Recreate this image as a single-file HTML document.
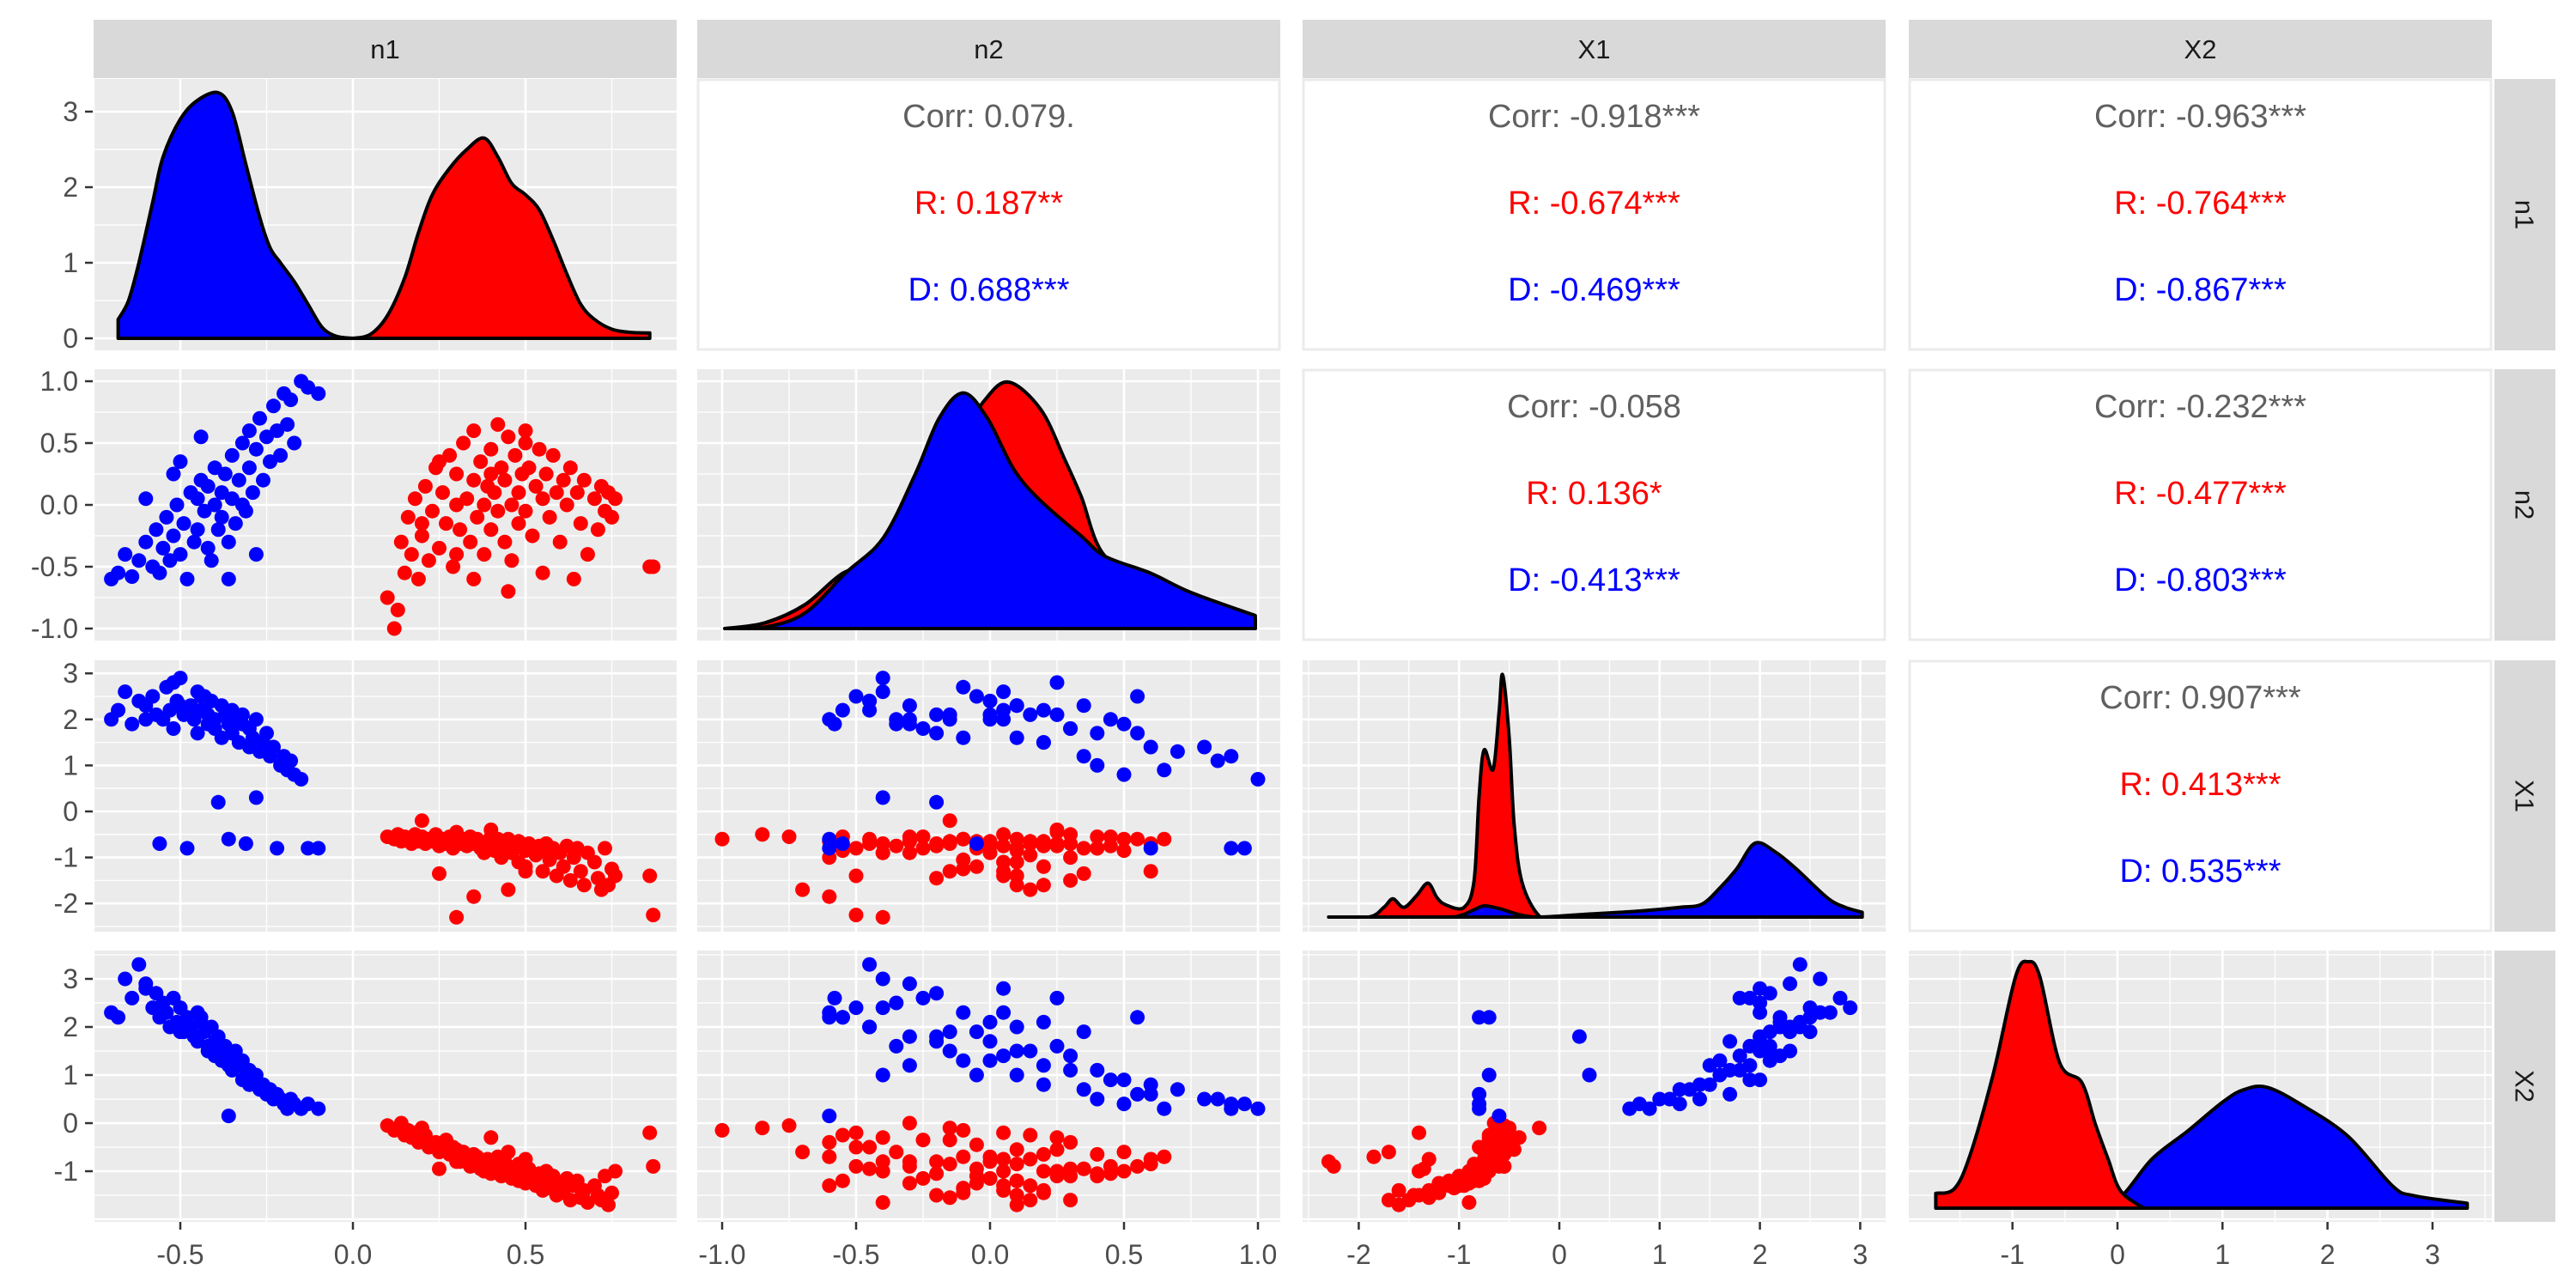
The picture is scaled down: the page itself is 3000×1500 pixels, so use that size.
<!DOCTYPE html>
<html><head><meta charset="utf-8"><title>ggpairs n1 n2 X1 X2</title>
<style>html,body{margin:0;padding:0;background:#fff}svg{display:block}text{font-family:"Liberation Sans",Arial,sans-serif}</style>
</head><body>
<svg id="chart" xmlns="http://www.w3.org/2000/svg" width="3000" height="1500" viewBox="0 0 3000 1500">
<rect x="0" y="0" width="3000" height="1500" fill="#ffffff"/>
<g id="layer"></g>
</svg>
<script>
// ---- data ----
const varNames = ["n1","n2","X1","X2"];
// blue (D) observations
const n1B = [-0.70,-0.68,-0.66,-0.64,-0.62,-0.60,-0.58,-0.57,-0.56,-0.55,-0.54,-0.53,-0.52,-0.51,-0.50,-0.49,-0.48,-0.47,-0.46,-0.45,-0.45,-0.44,-0.43,-0.42,-0.42,-0.41,-0.40,-0.40,-0.39,-0.38,-0.38,-0.37,-0.36,-0.35,-0.35,-0.34,-0.33,-0.32,-0.32,-0.31,-0.30,-0.30,-0.29,-0.28,-0.27,-0.26,-0.25,-0.24,-0.23,-0.22,-0.21,-0.20,-0.19,-0.18,-0.17,-0.15,-0.13,-0.10,-0.36,-0.28,-0.52,-0.44,-0.60,-0.50];
const n2B = [-0.60,-0.55,-0.40,-0.58,-0.45,-0.30,-0.50,-0.20,-0.55,-0.35,-0.10,-0.45,-0.25,0.00,-0.40,-0.15,-0.60,0.10,-0.30,0.05,-0.20,0.20,-0.05,-0.35,0.15,-0.45,0.00,0.30,-0.20,0.10,-0.10,0.25,-0.30,0.05,0.40,-0.15,0.20,0.50,0.00,-0.05,0.30,0.60,0.10,0.45,0.70,0.20,0.55,0.35,0.80,0.60,0.40,0.90,0.65,0.85,0.50,1.00,0.95,0.90,-0.60,-0.40,0.25,0.55,0.05,0.35];
const x1B = [2.0,2.2,2.6,1.9,2.4,2.3,2.5,2.1,-0.7,2.0,2.7,2.2,1.8,2.4,2.9,2.1,-0.8,2.3,2.0,2.6,1.7,2.2,2.5,1.9,2.1,2.4,2.0,1.8,0.2,2.3,1.6,2.1,1.9,2.2,1.7,2.0,1.5,1.9,2.1,-0.7,1.8,1.4,1.6,2.0,1.3,1.5,1.7,1.2,1.4,-0.8,1.0,1.2,0.9,1.1,0.8,0.7,-0.8,-0.8,-0.6,0.3,2.8,2.5,2.0,2.3];
const x2B = [2.3,2.2,3.0,2.6,3.3,2.9,2.4,2.7,2.2,2.5,2.3,2.0,2.6,2.1,2.4,1.9,2.2,2.0,1.8,2.3,1.7,2.1,1.9,1.6,1.5,2.0,1.7,1.4,1.8,1.5,1.3,1.6,1.2,1.4,1.1,1.5,1.2,0.9,1.3,1.0,1.1,0.8,1.0,0.9,0.7,0.8,0.6,0.7,0.5,0.6,0.5,0.4,0.3,0.5,0.4,0.3,0.4,0.3,0.15,1.0,2.6,2.2,2.8,1.9];
// red (R) observations
const n1R = [0.10,0.12,0.13,0.14,0.15,0.16,0.17,0.18,0.19,0.20,0.21,0.22,0.23,0.24,0.25,0.26,0.27,0.28,0.29,0.30,0.30,0.31,0.32,0.33,0.34,0.35,0.35,0.36,0.37,0.38,0.38,0.39,0.40,0.40,0.41,0.42,0.42,0.43,0.44,0.44,0.45,0.46,0.46,0.47,0.48,0.48,0.49,0.50,0.50,0.51,0.52,0.53,0.54,0.55,0.55,0.56,0.57,0.58,0.59,0.60,0.61,0.62,0.63,0.64,0.65,0.66,0.67,0.68,0.70,0.71,0.72,0.73,0.74,0.75,0.76,0.86,0.87,0.45,0.35,0.30,0.25,0.50,0.40,0.20];
const n2R = [-0.75,-1.00,-0.85,-0.30,-0.55,-0.10,-0.40,0.05,-0.60,-0.25,0.15,-0.45,-0.05,0.30,-0.35,0.10,-0.15,0.40,-0.50,0.00,0.25,-0.20,0.50,0.05,-0.30,0.20,0.60,-0.10,0.35,0.00,-0.40,0.15,0.45,-0.20,0.10,0.65,-0.05,0.30,-0.30,0.20,0.55,0.00,-0.45,0.40,0.10,-0.15,0.25,0.50,-0.05,0.30,-0.25,0.15,0.45,0.05,-0.55,0.25,-0.10,0.40,0.10,-0.30,0.20,0.00,0.30,-0.60,0.10,-0.15,0.20,-0.40,0.05,-0.20,0.15,-0.05,0.10,-0.10,0.05,-0.50,-0.50,-0.70,-0.60,-0.40,0.35,0.60,0.25,-0.15];
const x1R = [-0.55,-0.60,-0.50,-0.65,-0.55,-0.60,-0.70,-0.50,-0.65,-0.55,-0.70,-0.60,-0.65,-0.50,-0.75,-0.60,-0.70,-0.55,-0.80,-0.65,-0.45,-0.70,-0.60,-0.75,-0.55,-0.65,-0.70,-0.60,-0.80,-0.70,-0.90,-0.65,-0.55,-0.75,-0.85,-0.60,-0.70,-1.00,-0.65,-0.75,-0.60,-0.90,-0.70,-0.80,-1.10,-0.65,-0.75,-0.85,-1.20,-0.70,-0.80,-0.95,-0.75,-1.30,-0.85,-0.70,-1.05,-0.80,-1.40,-0.90,-1.20,-0.75,-1.50,-1.00,-0.80,-1.30,-1.60,-0.90,-1.10,-1.45,-1.70,-0.80,-1.60,-1.25,-1.40,-1.40,-2.25,-1.70,-1.85,-2.30,-1.35,-1.30,-0.40,-0.20];
const x2R = [-0.05,-0.15,-0.10,0.00,-0.25,-0.15,-0.30,-0.20,-0.40,-0.35,-0.25,-0.50,-0.45,-0.40,-0.60,-0.55,-0.35,-0.65,-0.50,-0.70,-0.55,-0.80,-0.60,-0.75,-0.90,-0.65,-0.85,-0.70,-0.95,-0.80,-1.00,-0.75,-0.90,-1.05,-0.85,-0.70,-0.95,-1.10,-0.80,-1.00,-0.90,-1.15,-0.95,-1.05,-1.20,-0.85,-1.10,-1.00,-1.25,-0.95,-1.15,-1.30,-1.05,-1.40,-1.20,-1.00,-1.35,-1.10,-1.50,-1.25,-1.45,-1.15,-1.60,-1.30,-1.20,-1.55,-1.40,-1.65,-1.30,-1.50,-1.60,-1.10,-1.70,-1.45,-1.00,-0.20,-0.90,-0.60,-0.70,-0.80,-0.95,-0.75,-0.30,-0.10];
// density curves [x, density]
const densN1B = [[-0.68,0.25],[-0.65,0.5],[-0.62,1.0],[-0.58,1.8],[-0.55,2.4],[-0.5,2.9],[-0.45,3.15],[-0.39,3.25],[-0.35,3.0],[-0.31,2.3],[-0.27,1.6],[-0.24,1.2],[-0.21,1.0],[-0.17,0.75],[-0.13,0.45],[-0.09,0.15],[-0.05,0.03],[0.0,0.0],[0.02,0.0]];
const densN1R = [[0.0,0.0],[0.05,0.05],[0.1,0.3],[0.15,0.8],[0.19,1.4],[0.23,1.9],[0.28,2.25],[0.33,2.5],[0.38,2.65],[0.42,2.4],[0.46,2.05],[0.5,1.9],[0.54,1.7],[0.58,1.3],[0.62,0.85],[0.66,0.45],[0.7,0.25],[0.75,0.12],[0.8,0.08],[0.86,0.07]];
const densN2R = [[-0.99,0.0],[-0.84,0.024],[-0.69,0.1],[-0.55,0.23],[-0.4,0.3],[-0.2,0.6],[-0.1,0.8],[-0.02,0.95],[0.07,1.025],[0.19,0.91],[0.28,0.70],[0.34,0.55],[0.43,0.30],[0.63,0.2],[0.8,0.1],[0.99,0.04]];
const densN2B = [[-0.99,0.0],[-0.84,0.006],[-0.69,0.065],[-0.54,0.23],[-0.40,0.375],[-0.28,0.64],[-0.19,0.875],[-0.10,0.98],[-0.01,0.875],[0.09,0.66],[0.19,0.53],[0.34,0.385],[0.43,0.30],[0.6,0.23],[0.75,0.15],[0.99,0.054]];
const densX1R = [[-2.3,0.0],[-1.9,0.0],[-1.75,0.04],[-1.66,0.075],[-1.55,0.04],[-1.42,0.09],[-1.31,0.14],[-1.22,0.08],[-1.13,0.05],[-0.95,0.04],[-0.85,0.15],[-0.8,0.5],[-0.75,0.69],[-0.66,0.61],[-0.6,0.85],[-0.565,1.0],[-0.5,0.74],[-0.45,0.38],[-0.37,0.14],[-0.19,0.0],[0.0,0.0]];
const densX1B = [[-2.3,0.0],[-1.2,0.0],[-1.0,0.005],[-0.85,0.03],[-0.75,0.046],[-0.6,0.035],[-0.4,0.01],[-0.2,0.0],[0.2,0.01],[0.8,0.025],[1.2,0.04],[1.42,0.053],[1.6,0.12],[1.77,0.2],[1.95,0.305],[2.15,0.27],[2.36,0.2],[2.67,0.08],[2.85,0.04],[3.02,0.02]];
const densX2B = [[-0.34,0.0],[0.0,0.035],[0.33,0.2],[0.66,0.31],[1.0,0.43],[1.2,0.48],[1.43,0.49],[1.79,0.41],[2.2,0.29],[2.62,0.09],[2.83,0.05],[3.33,0.02]];
const densX2R = [[-1.73,0.06],[-1.55,0.08],[-1.40,0.22],[-1.18,0.55],[-0.97,0.94],[-0.85,1.0],[-0.74,0.94],[-0.55,0.59],[-0.34,0.51],[-0.21,0.34],[-0.09,0.2],[0.03,0.07],[0.25,0.0]];
// tick labels
const colTicks = [[-0.5,0,0.5],[-1,-0.5,0,0.5,1],[-2,-1,0,1,2,3],[-1,0,1,2,3]];
const colTickLabels = [["-0.5","0.0","0.5"],["-1.0","-0.5","0.0","0.5","1.0"],["-2","-1","0","1","2","3"],["-1","0","1","2","3"]];
const rowTicks = [[0,1,2,3],[-1,-0.5,0,0.5,1],[-2,-1,0,1,2,3],[-1,0,1,2,3]];
const rowTickLabels = [["0","1","2","3"],["-1.0","-0.5","0.0","0.5","1.0"],["-2","-1","0","1","2","3"],["-1","0","1","2","3"]];
// correlation texts [row, col, corr, R, D]
const corrCells = [[0,1,"Corr: 0.079.","R: 0.187**","D: 0.688***"],[0,2,"Corr: -0.918***","R: -0.674***","D: -0.469***"],[0,3,"Corr: -0.963***","R: -0.764***","D: -0.867***"],[1,2,"Corr: -0.058","R: 0.136*","D: -0.413***"],[1,3,"Corr: -0.232***","R: -0.477***","D: -0.803***"],[2,3,"Corr: 0.907***","R: 0.413***","D: 0.535***"]];

// ---- layout ----
const NS = "http://www.w3.org/2000/svg";
const layer = document.getElementById("layer");
const PL = [109,812,1517,2223], PW = 679;
const PT = [92,430,769,1107], PH = 316;
const colScale = [{o:411,k:402},{o:1153,k:312},{o:1816,k:116.8},{o:2466,k:122.3}];
const rowScale = [{o:394,k:88},{o:588,k:144},{o:945,k:53.6},{o:1308,k:56}];
const diagScale = [{o:394,k:88},{o:732,k:280},{o:1068,k:282},{o:1407,k:287}];
function sx(c,v){return colScale[c].o + v*colScale[c].k;}
function sy(r,v){return rowScale[r].o - v*rowScale[r].k;}
function dy(r,v){return diagScale[r].o - v*diagScale[r].k;}
function mk(tag,attrs,parent){const e=document.createElementNS(NS,tag);for(const k in attrs)e.setAttribute(k,attrs[k]);(parent||layer).appendChild(e);return e;}

const defs = mk("defs",{});
for(let r=0;r<4;r++)for(let c=0;c<4;c++){
  const cp=mk("clipPath",{id:"cp"+r+c},defs);
  mk("rect",{x:PL[c],y:PT[r],width:PW,height:PH},cp);
}

// strips
for(let c=0;c<4;c++){
  const g=mk("g",{});
  
  
  mk("rect",{x:PL[c],y:23,width:PW,height:68,fill:"#d9d9d9"},g);
  const t=mk("text",{x:PL[c]+PW/2,y:68,"text-anchor":"middle","font-size":31,fill:"#1a1a1a"},g);
  t.textContent=varNames[c];
}
for(let r=0;r<4;r++){
  const g=mk("g",{});
  
  
  mk("rect",{x:2905,y:PT[r],width:71,height:PH,fill:"#d9d9d9"},g);
  const cx=2940, cy=PT[r]+PH/2;
  const t=mk("text",{x:cx,y:cy,"text-anchor":"middle","dominant-baseline":"central","font-size":31,fill:"#1a1a1a",transform:"rotate(90 "+cx+" "+cy+")"},g);
  t.textContent=varNames[r];
}

function gridFor(r,c,g){
  const xt=colTicks[c]; const step=xt[1]-xt[0];
  for(let v=xt[0]-step*3; v<=xt[xt.length-1]+step*3+1e-9; v+=step/2){
    const x=sx(c,v); if(x<PL[c]||x>PL[c]+PW) continue;
    const major=Math.abs(v/step-Math.round(v/step))<1e-6;
    mk("line",{x1:x,x2:x,y1:PT[r],y2:PT[r]+PH,stroke:"#ffffff","stroke-width":major?2.6:1.3},g);
  }
  const yt=rowTicks[r]; const ys=yt[1]-yt[0];
  for(let v=yt[0]-ys*3; v<=yt[yt.length-1]+ys*3+1e-9; v+=ys/2){
    const y=sy(r,v); if(y<PT[r]||y>PT[r]+PH) continue;
    const major=Math.abs(v/ys-Math.round(v/ys))<1e-6;
    mk("line",{x1:PL[c],x2:PL[c]+PW,y1:y,y2:y,stroke:"#ffffff","stroke-width":major?2.6:1.3},g);
  }
}

function densPath(r,c,pts,fill,g,name){
  const P=pts.map(p=>[sx(c,p[0]),dy(r,p[1])]);
  let d="M"+P[0][0].toFixed(1)+","+dy(r,0).toFixed(1)+" L"+P[0][0].toFixed(1)+","+P[0][1].toFixed(1);
  for(let i=0;i<P.length-1;i++){
    const p0=P[Math.max(0,i-1)],p1=P[i],p2=P[i+1],p3=P[Math.min(P.length-1,i+2)];
    const c1x=p1[0]+(p2[0]-p0[0])/6, c1y=Math.min(dy(r,0),p1[1]+(p2[1]-p0[1])/6);
    const c2x=p2[0]-(p3[0]-p1[0])/6, c2y=Math.min(dy(r,0),p2[1]-(p3[1]-p1[1])/6);
    d+=" C"+c1x.toFixed(1)+","+c1y.toFixed(1)+" "+c2x.toFixed(1)+","+c2y.toFixed(1)+" "+p2[0].toFixed(1)+","+p2[1].toFixed(1);
  }
  d+=" L"+P[P.length-1][0].toFixed(1)+","+dy(r,0).toFixed(1)+" Z";
  const e=mk("path",{d:d,fill:fill,stroke:"#000000","stroke-width":4,"stroke-linejoin":"round","clip-path":"url(#cp"+r+c+")"},g);
  
  
}

const obsB=[n1B,n2B,x1B,x2B], obsR=[n1R,n2R,x1R,x2R];
const densDefs=[[["red",densN1R,"#ff0000"],["blue",densN1B,"#0000ff"]],[["red",densN2R,"#ff0000"],["blue",densN2B,"#0000ff"]],[["red",densX1R,"#ff0000"],["blue",densX1B,"#0000ff"]],[["blue",densX2B,"#0000ff"],["red",densX2R,"#ff0000"]]];

for(let r=0;r<4;r++)for(let c=0;c<4;c++){
  const g=mk("g",{});
  
  
  if(c>r){
    mk("rect",{x:PL[c]+1,y:PT[r]+1,width:PW-2,height:PH-2,fill:"#ffffff",stroke:"#ebebeb","stroke-width":3},g);
    continue;
  }
  mk("rect",{x:PL[c],y:PT[r],width:PW,height:PH,fill:"#ebebeb"},g);
  gridFor(r,c,g);
  if(r===c){
    for(const dd of densDefs[r]) densPath(r,c,dd[1],dd[2],g,'density-'+dd[0]+'-'+varNames[r]);
  } else {
    const pg=mk("g",{"clip-path":"url(#cp"+r+c+")"},g);
    const xs=obsR[c], ys=obsR[r];
    for(let i=0;i<xs.length;i++){
      const e=mk("circle",{cx:sx(c,xs[i]).toFixed(1),cy:sy(r,ys[i]).toFixed(1),r:8.5,fill:"#ff0000"},pg);
      
      
    }
    const xb=obsB[c], yb=obsB[r];
    for(let i=0;i<xb.length;i++){
      const e=mk("circle",{cx:sx(c,xb[i]).toFixed(1),cy:sy(r,yb[i]).toFixed(1),r:8.5,fill:"#0000ff"},pg);
      
      
    }
  }
}

// correlation text
for(const cc of corrCells){
  const r=cc[0], c=cc[1]; const cx=PL[c]+PW/2;
  const cols=["#606060","#ff0000","#0000ff"]; const offs=[56,157,258];
  const names=["corr-overall","corr-r","corr-d"];
  for(let k=0;k<3;k++){
    const t=mk("text",{x:cx,y:PT[r]+offs[k],"text-anchor":"middle","font-size":38,fill:cols[k]});
    
    
    t.textContent=cc[2+k];
  }
}

// y axes
for(let r=0;r<4;r++){
  const g=mk("g",{});
  
  
  rowTicks[r].forEach((v,i)=>{
    const y=sy(r,v);
    mk("line",{x1:99,x2:108,y1:y,y2:y,stroke:"#333333","stroke-width":2.5},g);
    const t=mk("text",{x:91,y:y+11,"text-anchor":"end","font-size":32,fill:"#4d4d4d"},g);
    t.textContent=rowTickLabels[r][i];
  });
}
// x axes
for(let c=0;c<4;c++){
  const g=mk("g",{});
  
  
  colTicks[c].forEach((v,i)=>{
    const x=sx(c,v);
    mk("line",{x1:x,x2:x,y1:1423,y2:1432,stroke:"#333333","stroke-width":2.5},g);
    const t=mk("text",{x:x,y:1472,"text-anchor":"middle","font-size":32,fill:"#4d4d4d"},g);
    t.textContent=colTickLabels[c][i];
  });
}
</script>
</body></html>
